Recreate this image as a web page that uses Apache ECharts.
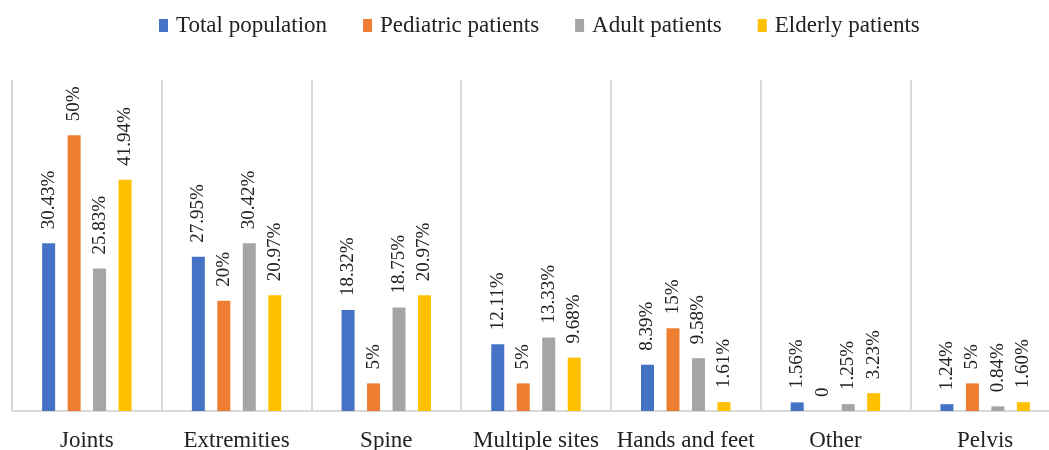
<!DOCTYPE html>
<html>
<head>
<meta charset="utf-8">
<script src="https://cdn.jsdelivr.net/npm/echarts@6/dist/echarts.min.js"></script>
<style>html,body{margin:0;padding:0;background:#fff}#c{width:1049px;height:450px}</style>
</head>
<body>
<div id="c"></div>
<script>
var categories = ['Joints', 'Extremities', 'Spine', 'Multiple sites', 'Hands and feet', 'Other', 'Pelvis'];
var seriesNames = ['Total population', 'Pediatric patients', 'Adult patients', 'Elderly patients'];
var totalValues = [30.43, 27.95, 18.32, 12.11, 8.39, 1.56, 1.24];
var pediatricValues = [50, 20, 5, 5, 15, 0, 5];
var adultValues = [25.83, 30.42, 18.75, 13.33, 9.58, 1.25, 0.84];
var elderlyValues = [41.94, 20.97, 20.97, 9.68, 1.61, 3.23, 1.60];
var totalLabels = ['30.43%', '27.95%', '18.32%', '12.11%', '8.39%', '1.56%', '1.24%'];
var pediatricLabels = ['50%', '20%', '5%', '5%', '15%', '0', '5%'];
var adultLabels = ['25.83%', '30.42%', '18.75%', '13.33%', '9.58%', '1.25%', '0.84%'];
var elderlyLabels = ['41.94%', '20.97%', '20.97%', '9.68%', '1.61%', '3.23%', '1.60%'];

var colors = ['#4472C4', '#ED7D31', '#A5A5A5', '#FFC000'];
var allValues = [totalValues, pediatricValues, adultValues, elderlyValues];
var allLabels = [totalLabels, pediatricLabels, adultLabels, elderlyLabels];
var fontFam = '"Liberation Serif", "Times New Roman", serif';

var series = seriesNames.map(function (name, i) {
  return {
    name: name,
    type: 'bar',
    data: allValues[i],
    barWidth: 13,
    barGap: '96%',
    itemStyle: { color: colors[i] },
    label: {
      show: true,
      position: 'top',
      rotate: 90,
      align: 'left',
      verticalAlign: 'middle',
      distance: 14,
      fontFamily: fontFam,
      fontSize: 19,
      color: '#222',
      formatter: function (p) { return allLabels[i][p.dataIndex]; }
    }
  };
});

var chart = echarts.init(document.getElementById('c'));
chart.setOption({
  animation: false,
  color: colors,
  legend: {
    top: 9,
    left: 154,
    itemWidth: 9,
    itemHeight: 13,
    itemGap: 36,
    icon: 'rect',
    textStyle: { fontFamily: fontFam, fontSize: 23, color: '#222', padding: [0, 0, 0, 3] },
    data: seriesNames
  },
  grid: { left: 12, top: 80, bottom: 39, width: 1048, containLabel: false, outerBoundsMode: 'none' },
  xAxis: {
    type: 'category',
    data: categories,
    axisLine: { show: true, lineStyle: { color: '#d9d9d9', width: 2 } },
    axisTick: { show: false },
    splitLine: { show: true, interval: 0, lineStyle: { color: '#d9d9d9', width: 2 } },
    axisLabel: { interval: 0, fontFamily: fontFam, fontSize: 23, color: '#222', margin: 18 }
  },
  yAxis: {
    type: 'value',
    min: 0,
    max: 60,
    show: false,
    splitLine: { show: false }
  },
  series: series
});
</script>
</body>
</html>
